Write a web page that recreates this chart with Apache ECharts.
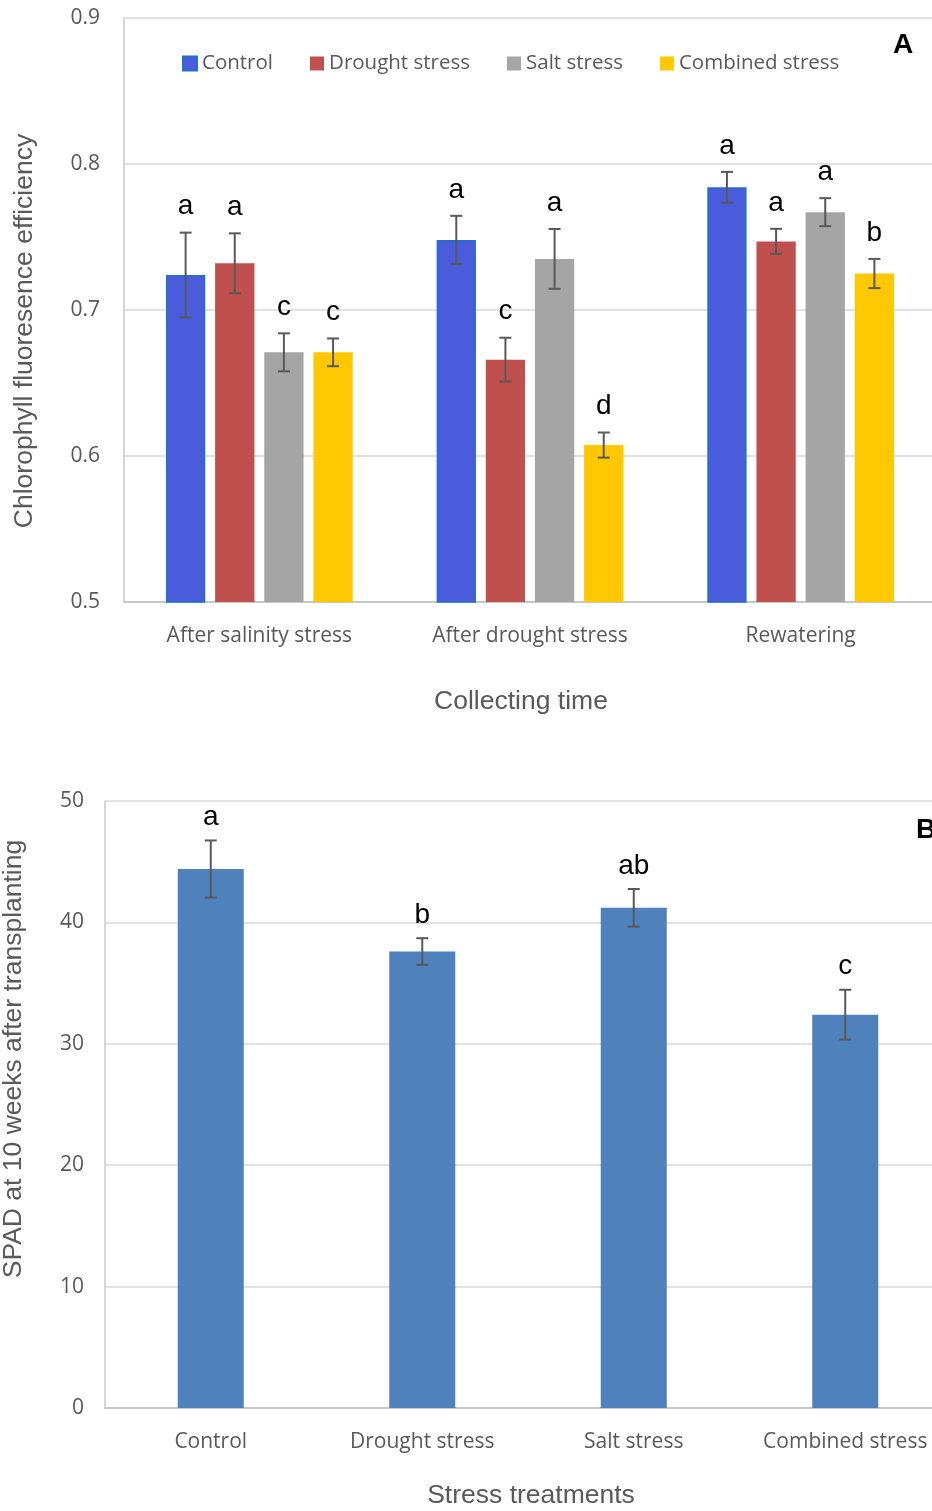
<!DOCTYPE html>
<html>
<head>
<meta charset="utf-8">
<script src="https://cdn.jsdelivr.net/npm/echarts@6/dist/echarts.min.js"></script>
<style>
html,body{margin:0;padding:0;background:#fff;overflow:hidden;}
#chart{width:932px;height:1511px;}
</style>
</head>
<body>
<div id="chart"></div>
<script>
// ---------- Data: panel A ----------
const categoriesA = ['After salinity stress', 'After drought stress', 'Rewatering'];
const seriesNamesA = ['Control', 'Drought stress', 'Salt stress', 'Combined stress'];
const controlA = [0.724, 0.748, 0.784];
const droughtA = [0.732, 0.666, 0.747];
const saltA = [0.671, 0.735, 0.767];
const combinedA = [0.671, 0.6075, 0.725];
const controlErrA = [0.029, 0.0165, 0.0106];
const droughtErrA = [0.0205, 0.015, 0.0086];
const saltErrA = [0.013, 0.0205, 0.0096];
const combinedErrA = [0.0095, 0.0086, 0.010];
const controlLetA = ['a', 'a', 'a'];
const droughtLetA = ['a', 'c', 'a'];
const saltLetA = ['c', 'a', 'a'];
const combinedLetA = ['c', 'd', 'b'];
const yTicksA = [0.5, 0.6, 0.7, 0.8, 0.9];

// ---------- Data: panel B ----------
const categoriesB = ['Control', 'Drought stress', 'Salt stress', 'Combined stress'];
const spadB = [44.4, 37.6, 41.2, 32.4];
const spadErrB = [2.35, 1.1, 1.55, 2.05];
const spadLetB = ['a', 'b', 'ab', 'c'];
const yTicksB = [0, 10, 20, 30, 40, 50];

const valuesA = [controlA, droughtA, saltA, combinedA];
const errsA = [controlErrA, droughtErrA, saltErrA, combinedErrA];
const letsA = [controlLetA, droughtLetA, saltLetA, combinedLetA];
const colorsA = ['#4a5bdb', '#c0504d', '#a5a5a5', '#ffc800'];

const CAT_GAP = 0.31, BAR_GAP = 0.25;
const GREY = '#595959';
const SANS = '"Open Sans", sans-serif';
const ARIAL = '"Liberation Sans", Arial, sans-serif';
const LETTER_FONT = '28px ' + ARIAL;
const TITLE_FONT = '26.5px ' + ARIAL;

function errorGroup(x, top, bot, letter, labelOffset) {
  const cap = 6;
  const st = { stroke: GREY, lineWidth: 2 };
  return {
    type: 'group',
    children: [
      { type: 'line', shape: { x1: x, y1: top, x2: x, y2: bot }, style: st },
      { type: 'line', shape: { x1: x - cap, y1: top, x2: x + cap, y2: top }, style: st },
      { type: 'line', shape: { x1: x - cap, y1: bot, x2: x + cap, y2: bot }, style: st },
      { type: 'text', style: { x: x, y: top - labelOffset, text: letter, fill: '#000',
          font: LETTER_FONT, textAlign: 'center', textVerticalAlign: 'bottom' } }
    ]
  };
}

function errorRenderer(seriesIdx, nSeries, catGap, barGap, labelOffset) {
  return function (params, api) {
    const cat = api.value(0), val = api.value(1), err = api.value(2);
    const letter = api.value(3);
    const band = api.size([1, 0])[0];
    const usable = band * (1 - catGap);
    const bw = usable / (nSeries + (nSeries - 1) * barGap);
    const center = api.coord([cat, val]);
    const x = center[0] - usable / 2 + bw / 2 + seriesIdx * bw * (1 + barGap);
    const top = api.coord([cat, val + err])[1];
    const bot = api.coord([cat, val - err])[1];
    return errorGroup(x, top, bot, letter, labelOffset);
  };
}

const series = [];
for (let i = 0; i < 4; i++) {
  series.push({
    name: seriesNamesA[i], type: 'bar', xAxisIndex: 0, yAxisIndex: 0,
    data: valuesA[i], barCategoryGap: (CAT_GAP * 100) + '%', barGap: (BAR_GAP * 100) + '%',
    itemStyle: i === 0 ? { color: colorsA[i], borderColor: '#1f73c8', borderWidth: 1.5 } : { color: colorsA[i] },
    silent: true
  });
}
for (let i = 0; i < 4; i++) {
  series.push({
    type: 'custom', xAxisIndex: 0, yAxisIndex: 0, z: 5, silent: true,
    renderItem: errorRenderer(i, 4, CAT_GAP, BAR_GAP, 12),
    encode: { x: 0, y: 1 },
    data: categoriesA.map((c, k) => [k, valuesA[i][k], errsA[i][k], letsA[i][k]])
  });
}
series.push({
  name: 'SPAD', type: 'bar', xAxisIndex: 1, yAxisIndex: 1, data: spadB,
  barWidth: 66, itemStyle: { color: '#4f81bd' }, silent: true
});
series.push({
  type: 'custom', xAxisIndex: 1, yAxisIndex: 1, z: 5, silent: true,
  renderItem: function (params, api) {
    const cat = api.value(0), val = api.value(1), err = api.value(2), letter = api.value(3);
    const x = api.coord([cat, val])[0];
    const top = api.coord([cat, val + err])[1];
    const bot = api.coord([cat, val - err])[1];
    return errorGroup(x, top, bot, letter, 9);
  },
  encode: { x: 0, y: 1 },
  data: categoriesB.map((c, k) => [k, spadB[k], spadErrB[k], spadLetB[k]])
});

const axisLineStyle = { lineStyle: { color: '#bfbfbf', width: 1.5 } };
const option = {
  backgroundColor: '#fff',
  animation: false,
  legend: {
    data: seriesNamesA, left: 177, top: 48, icon: 'rect', itemWidth: 14, itemHeight: 14,
    itemGap: 37, textStyle: { fontFamily: SANS, fontSize: 20.5, color: GREY }
  },
  grid: [
    { left: 124, top: 18, width: 812, height: 584, outerBoundsMode: 'none', containLabel: false },
    { left: 105, top: 801, width: 846, height: 607, outerBoundsMode: 'none', containLabel: false }
  ],
  xAxis: [
    { type: 'category', gridIndex: 0, data: categoriesA, axisTick: { show: false },
      axisLine: axisLineStyle,
      axisLabel: { interval: 0, fontFamily: SANS, fontSize: 21, color: GREY, margin: 24 } },
    { type: 'category', gridIndex: 1, data: categoriesB, axisTick: { show: false },
      axisLine: axisLineStyle,
      axisLabel: { interval: 0, fontFamily: SANS, fontSize: 21, color: GREY, margin: 24 } }
  ],
  yAxis: [
    { type: 'value', gridIndex: 0, min: yTicksA[0], max: yTicksA[yTicksA.length - 1], interval: 0.1,
      axisLine: { show: true, lineStyle: { color: '#c8c8c8', width: 1.5 } }, axisTick: { show: false },
      splitLine: { lineStyle: { color: '#d9d9d9', width: 1.5 } },
      axisLabel: { fontFamily: SANS, fontSize: 21, color: GREY, margin: 24, formatter: v => v.toFixed(1) } },
    { type: 'value', gridIndex: 1, min: yTicksB[0], max: yTicksB[yTicksB.length - 1], interval: 10,
      axisLine: { show: true, lineStyle: { color: '#c8c8c8', width: 1.5 } }, axisTick: { show: false },
      splitLine: { lineStyle: { color: '#d9d9d9', width: 1.5 } },
      axisLabel: { fontFamily: SANS, fontSize: 21, color: GREY, margin: 21 } }
  ],
  graphic: [
    { type: 'text', left: 893, top: 31, style: { text: 'A', font: 'bold 28px ' + ARIAL, fill: '#000' } },
    { type: 'text', left: 916, top: 816, style: { text: 'B', font: 'bold 28px ' + ARIAL, fill: '#000' } },
    { type: 'text', x: 521, y: 702, style: { text: 'Collecting time', font: TITLE_FONT, fill: GREY, textAlign: 'center', textVerticalAlign: 'middle' } },
    { type: 'text', x: 531, y: 1496, style: { text: 'Stress treatments', font: TITLE_FONT, fill: GREY, textAlign: 'center', textVerticalAlign: 'middle' } },
    { type: 'text', x: 25, y: 331, rotation: Math.PI / 2, style: { text: 'Chlorophyll fluoresence efficiency', font: TITLE_FONT, fill: GREY, textAlign: 'center', textVerticalAlign: 'middle' } },
    { type: 'text', x: 14, y: 1059, rotation: Math.PI / 2, style: { text: 'SPAD at 10 weeks after transplanting', font: TITLE_FONT, fill: GREY, textAlign: 'center', textVerticalAlign: 'middle' } }
  ],
  series: series
};
const chart = echarts.init(document.getElementById('chart'), null, { renderer: 'canvas' });
chart.setOption(option);
</script>
</body>
</html>
